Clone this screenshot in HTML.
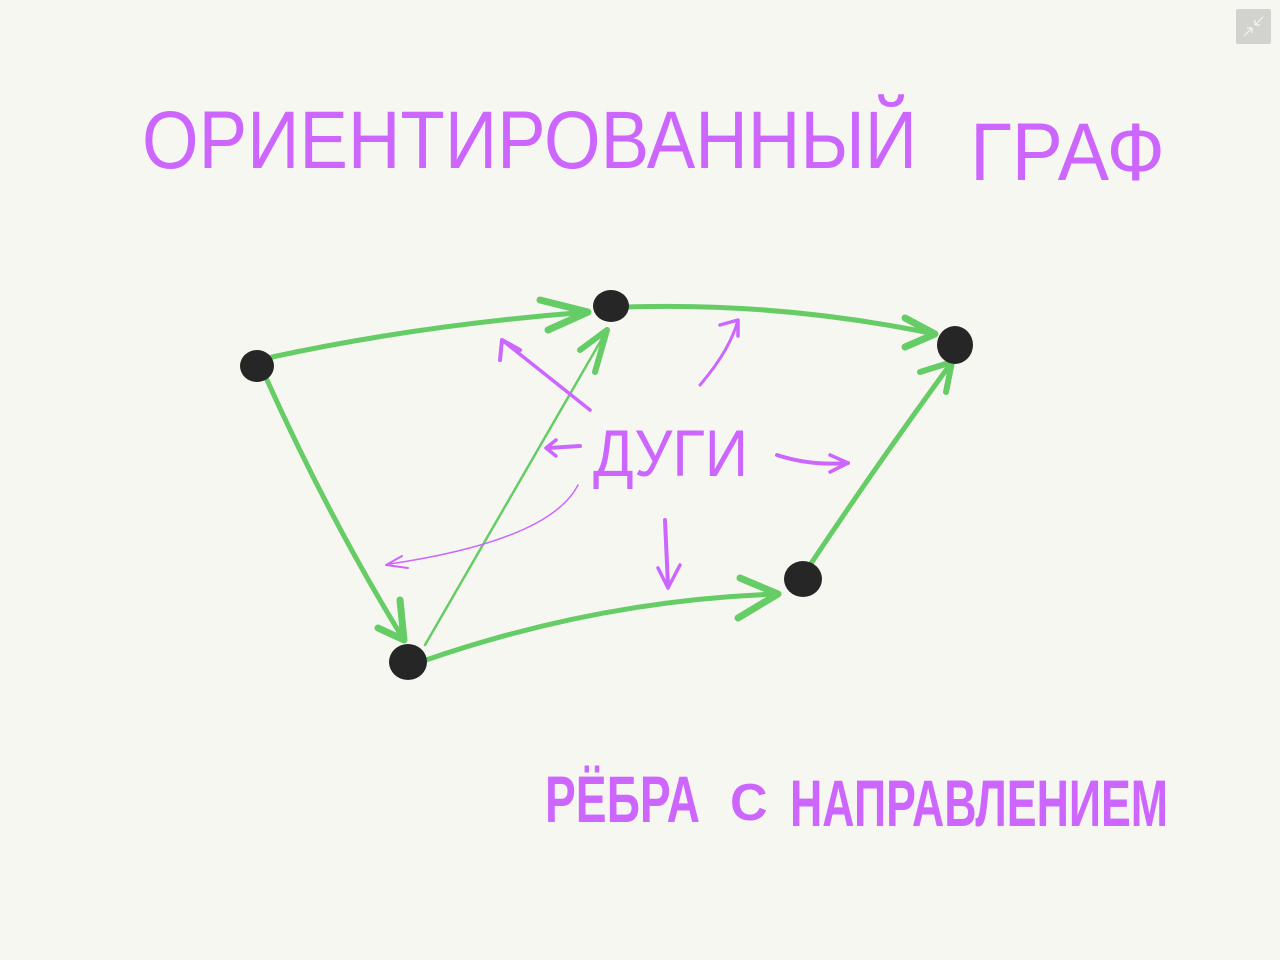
<!DOCTYPE html>
<html><head><meta charset="utf-8"><style>
html,body{margin:0;padding:0;background:#f7f7f2;width:1280px;height:960px;overflow:hidden}
svg{display:block}
text{font-family:"Liberation Sans Narrow","Liberation Sans","DejaVu Sans",sans-serif;fill:#cc66ff}
</style></head><body>
<svg width="1280" height="960" viewBox="0 0 1280 960">
<rect width="1280" height="960" fill="#f7f7f2"/>
<rect x="1236" y="9" width="35" height="35" rx="2" fill="#d2d2cf"/>
<path d="M1244 36l8-8M1252 28v5M1252 28h-5M1263 17l-8 8M1255 25v-5M1255 25h5" stroke="#f5f5f5" stroke-width="1.2" fill="none"/>

<text x="142" y="168" font-size="82" textLength="775" lengthAdjust="spacingAndGlyphs">ОРИЕНТИРОВАННЫЙ</text>
<text x="970" y="180" font-size="82" textLength="195" lengthAdjust="spacingAndGlyphs">ГРАФ</text>
<text x="593" y="476" font-size="66" textLength="155" lengthAdjust="spacingAndGlyphs">ДУГИ</text>
<text x="545" y="822" font-size="66" font-weight="bold" textLength="155" lengthAdjust="spacingAndGlyphs">РЁБРА</text>
<text x="730" y="820" font-size="52" font-weight="bold">С</text>
<text x="790" y="826" font-size="66" font-weight="bold" textLength="378" lengthAdjust="spacingAndGlyphs">НАПРАВЛЕНИЕМ</text>

<g stroke="#66cc66" fill="none" stroke-linecap="round" stroke-linejoin="round">
<path d="M272 357 Q420 325 588 312" stroke-width="5"/>
<path d="M540 300 L588 312 L548 330" stroke-width="7"/>
<path d="M625 307 Q780 302 935 334" stroke-width="5"/>
<path d="M905 318 L935 334 L905 347" stroke-width="7"/>
<path d="M267 380 Q330 520 404 640" stroke-width="5"/>
<path d="M378 628 L404 640 L400 600" stroke-width="7"/>
<path d="M426 660 Q600 600 778 594" stroke-width="5"/>
<path d="M740 578 L778 594 L738 618" stroke-width="7"/>
<path d="M425 645 L607 330" stroke-width="2.5"/>
<path d="M580 350 L607 330 L595 372" stroke-width="6"/>
<path d="M810 565 Q880 460 952 362" stroke-width="5"/>
<path d="M920 372 L952 362 L946 392" stroke-width="6"/>
</g>

<g fill="#262626">
<ellipse cx="257" cy="366" rx="17" ry="16"/>
<ellipse cx="611" cy="306" rx="18" ry="16"/>
<ellipse cx="955" cy="345" rx="18" ry="19"/>
<ellipse cx="408" cy="662" rx="19" ry="18"/>
<ellipse cx="803" cy="579" rx="19" ry="18"/>
</g>

<g stroke="#cc66ff" fill="none" stroke-linecap="round" stroke-linejoin="round">
<path d="M590 410 Q540 370 502 340" stroke-width="3.5"/>
<path d="M500 360 L502 340 L520 350" stroke-width="4"/>
<path d="M700 385 Q730 350 738 320" stroke-width="3"/>
<path d="M720 325 L738 320 L738 336" stroke-width="3.5"/>
<path d="M580 446 L548 448" stroke-width="4"/>
<path d="M556 440 L546 448 L556 456" stroke-width="3.5"/>
<path d="M777 455 Q810 466 848 463" stroke-width="4"/>
<path d="M830 455 L848 463 L830 472" stroke-width="3.5"/>
<path d="M665 520 L668 586" stroke-width="4"/>
<path d="M658 568 L668 588 L680 565" stroke-width="3.5"/>
<path d="M578 485 Q550 540 390 564" stroke-width="1.5"/>
<path d="M402 556 L386 565 L408 568" stroke-width="2"/>
</g>
</svg>
</body></html>
